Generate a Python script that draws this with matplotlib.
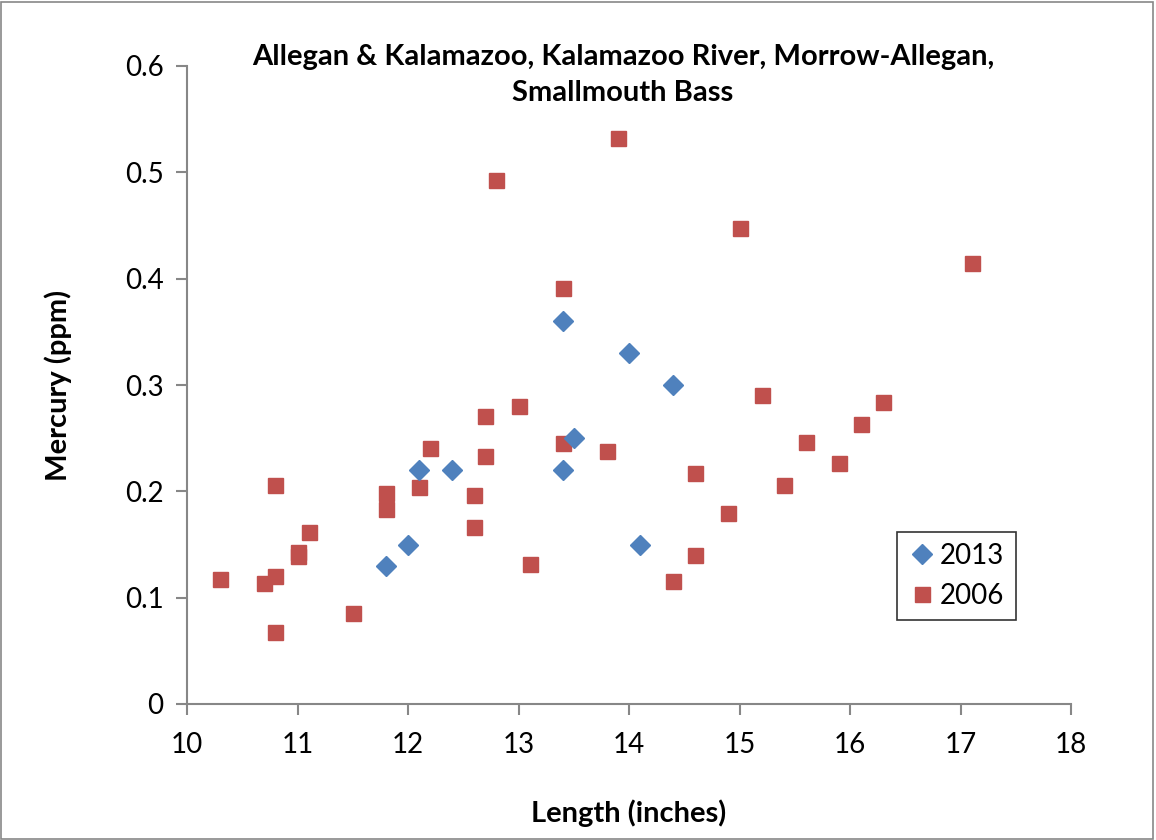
import matplotlib.pyplot as plt
from matplotlib.patches import Rectangle

plt.rcParams['font.family'] = ['Lato', 'DejaVu Sans']

# 2013 samples
len_2013 = [11.8, 12.0, 12.1, 12.4, 13.4, 13.4, 13.5, 14.0, 14.1, 14.4]
hg_2013 = [0.130, 0.150, 0.220, 0.220, 0.360, 0.220, 0.250, 0.330, 0.150, 0.300]

# 2006 samples
len_2006 = [10.3, 10.7, 10.8, 10.8, 10.8, 11.0, 11.0, 11.1, 11.5, 11.8, 11.8,
            12.1, 12.2, 12.6, 12.6, 12.7, 12.7, 12.8, 13.0, 13.1, 13.4, 13.4,
            13.8, 13.9, 14.4, 14.6, 14.6, 14.9, 15.0, 15.2, 15.4, 15.6, 15.9,
            16.1, 16.3, 17.1]
hg_2006 = [0.118, 0.114, 0.206, 0.120, 0.068, 0.143, 0.139, 0.162, 0.086, 0.198, 0.183,
           0.204, 0.241, 0.197, 0.166, 0.271, 0.233, 0.493, 0.280, 0.132, 0.391, 0.245,
           0.238, 0.532, 0.116, 0.217, 0.140, 0.180, 0.448, 0.291, 0.206, 0.246, 0.227,
           0.263, 0.284, 0.415]

fig = plt.figure(figsize=(11.56, 8.4), dpi=100)
ax = fig.add_axes([187 / 1156, 1 - 704 / 840, (1071 - 187) / 1156, (704 - 66) / 840])

ax.plot(len_2013, hg_2013, 'D', color='#4F81BD', markersize=10, label='2013', zorder=3)
ax.plot(len_2006, hg_2006, 's', color='#C0504D', markersize=10.8, label='2006', zorder=2)

ax.set_xlim(10, 18)
ax.set_ylim(0, 0.6)
ax.set_xticks(range(10, 19))
ax.set_yticks([0, 0.1, 0.2, 0.3, 0.4, 0.5, 0.6])
ax.set_yticklabels(['0', '0.1', '0.2', '0.3', '0.4', '0.5', '0.6'])

for s in ['top', 'right']:
    ax.spines[s].set_visible(False)
for s in ['left', 'bottom']:
    ax.spines[s].set_color('#878787')
    ax.spines[s].set_linewidth(1.5)
ax.tick_params(direction='out', length=8, width=1.5, color='#878787',
               labelsize=20, pad=9)
ax.tick_params(axis='x', pad=12)

ax.set_xlabel('Length (inches)', fontsize=21, fontweight='bold', labelpad=30)
ax.set_ylabel('Mercury (ppm)', fontsize=21, fontweight='bold', labelpad=38)
fig.text(623 / 1156, 1 - 75 / 840,
         'Allegan & Kalamazoo, Kalamazoo River, Morrow-Allegan,\nSmallmouth Bass',
         ha='center', va='center', fontsize=21, fontweight='bold', linespacing=1.45)

leg = ax.legend(loc='upper left', bbox_to_anchor=(897 / 1156, 1 - 532 / 840),
                bbox_transform=fig.transFigure, borderaxespad=0, fontsize=20,
                frameon=True, fancybox=False, edgecolor='black', handletextpad=0.15,
                borderpad=0.4, labelspacing=0.5, handlelength=1.0)
leg.get_frame().set_linewidth(1.2)

fig.patches.append(Rectangle((0.001, 0.001), 0.996, 0.997, transform=fig.transFigure,
                             fill=False, edgecolor='#878787', linewidth=1.2))

fig.savefig('out.png', dpi=100)
